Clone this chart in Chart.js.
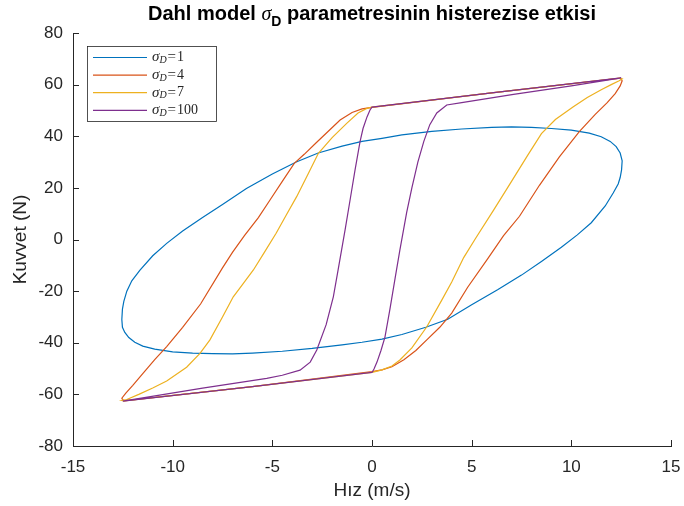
<!DOCTYPE html>
<html>
<head>
<meta charset="utf-8">
<script src="https://cdn.jsdelivr.net/npm/chart.js@4"></script>
<style>
  body { margin: 0; background: #fff; }
  canvas { display: block; }
</style>
</head>
<body>
<canvas id="chart" width="684" height="506"></canvas>
<script>
// sigma_D = 1 : upper branch (left tip -> right tip), then lower branch back
const sig1V = [-12.55, -12.52, -12.45, -12.3, -12.05, -11.65, -11.0, -10.3, -9.5, -8.5, -7.5, -6.3, -5.0, -3.8, -2.7, -1.5, -0.5,
  0.5, 1.5, 3.0, 4.5, 6.0, 7.0, 8.0, 9.0, 10.0, 10.9, 11.5, 11.95, 12.25, 12.45, 12.55,
  12.52, 12.45, 12.35, 12.1, 11.7, 11.0, 10.3, 9.5, 8.5, 7.5, 6.3, 5.0, 3.8, 2.7, 1.5, 0.5,
  -0.5, -1.5, -3.0, -4.5, -6.0, -7.0, -8.0, -9.0, -10.0, -10.9, -11.5, -11.9, -12.2, -12.4, -12.52, -12.55];
const sig1F = [-31, -27, -24, -20, -16, -12, -6.3, -1.5, 3.3, 8.5, 13.6, 19.8, 25.4, 30, 33.5, 36.2, 38.0,
  39.2, 40.5, 41.9, 42.8, 43.4, 43.6, 43.4, 43.0, 42.4, 41.2, 39.8, 38.0, 36.0, 33.5, 30.5,
  27, 24, 21.5, 18, 13, 6.5, 1.8, -3, -8.5, -13.8, -19.5, -25.3, -30.9, -34, -36.8, -38.6,
  -39.8, -40.8, -42.2, -43.3, -44.0, -44.3, -44.2, -44.0, -43.5, -42.5, -41.3, -39.8, -38.0, -36.0, -34, -31];

// sigma_D = 4
const sig4V = [0, 0.5, 1.0, 1.6, 2.2, 2.8, 3.4, 4.0, 4.8, 5.8, 6.6, 7.4, 8.4, 9.4, 10.4, 11.2, 11.8, 12.2, 12.45, 12.55, 12.45,
  6.0, 0,
  -0.5, -1.0, -1.6, -2.1, -2.8, -3.4, -3.9, -4.5, -5.1, -5.7, -6.4, -7.0, -7.5, -8.6, -9.5, -10.3, -10.9, -11.5, -12.0, -12.35, -12.55, -12.45,
  -6.0, 0];
const sig4F = [-51.2, -50.5, -49.3, -46.6, -43, -38.5, -34, -28.5, -18.5, -7.5, 1.5, 9, 21, 32, 41.8, 48.5, 53, 56.5, 59.5, 61.5, 62.5,
  56.8, 51.2,
  50.6, 49.2, 46.3, 42.6, 37.5, 33, 29.5, 22.5, 15.5, 8.5, 1.5, -5, -11, -25, -34, -41.5, -46.5, -52, -56.5, -59.5, -61.5, -62.5,
  -57, -51.2];

// sigma_D = 7
const sig7V = [0, 0.5, 1.0, 1.4, 2.0, 2.75, 3.5, 4.0, 4.6, 5.2, 6.1, 7.0, 7.8, 8.5, 9.2, 10.1, 10.8, 11.5, 12.0, 12.4, 12.55, 12.45,
  6.0, 0,
  -0.26, -0.7, -1.27, -2.0, -2.69, -3.2, -3.78, -4.3, -4.81, -5.4, -5.95, -6.5, -6.96, -7.5, -8.13, -8.63, -9.3, -10.3, -11.0, -11.7, -12.3, -12.55, -12.45,
  -6.0, 0];
const sig7F = [-51.5, -50.5, -49, -46.7, -42, -33.8, -23.5, -16.5, -7, 0.5, 11.4, 22.5, 32.5, 41, 46.5, 51.4, 55, 58, 60, 61.5, 62.2, 62.5,
  56.8, 51.3,
  50.8, 49, 45, 39.5, 33.4, 25.5, 16.6, 9.5, 2.4, -5, -11.8, -17.5, -22.2, -30, -38.9, -44.1, -49.5, -54.8, -57.5, -60, -62, -62.3, -62.5,
  -57, -51.5];

// sigma_D = 100
const sig100V = [0, 0.1, 0.25, 0.45, 0.65, 0.9, 1.16, 1.4, 1.74, 2.0, 2.3, 2.6, 2.9, 3.25, 3.75, 4.5, 7.1, 10.0, 12.5,
  6.0, 0,
  -0.1, -0.25, -0.45, -0.6, -0.85, -1.1, -1.35, -1.7, -1.94, -2.3, -2.77, -3.1, -3.61, -4.5, -5.28, -8.5, -12.5,
  -6.0, 0];
const sig100F = [-51.5, -50.2, -47.5, -43, -37.8, -27, -15, -4, 10.5, 20, 30, 38, 44.5, 49, 52.1, 53, 56.2, 59.5, 62.6,
  56.8, 51.3,
  50.2, 47.5, 43, 37.9, 27, 15.3, 3.7, -11.8, -22.2, -33, -42.8, -47.5, -50.6, -52.6, -53.8, -57.6, -62.6,
  -57, -51.5];

const legendValues = ["1", "4", "7", "100"];
const seriesColors = ["#0072BD", "#D95319", "#EDB120", "#7E2F8E"];
const xTitle = "Hız (m/s)";
const yTitle = "Kuvvet (N)";

const axisColor = "#262626";
const sansFont = '"Liberation Sans", Arial, sans-serif';
const serifFont = '"Liberation Serif", serif';

function toPoints(vs, fs) {
  return vs.map((v, i) => ({ x: v, y: fs[i] }));
}

const seriesData = [
  toPoints(sig1V, sig1F),
  toPoints(sig4V, sig4F),
  toPoints(sig7V, sig7F),
  toPoints(sig100V, sig100F)
];

// MATLAB style ticks pointing into the plot
const inwardTicks = {
  id: "inwardTicks",
  afterDraw(chart) {
    const c = chart.ctx;
    const area = chart.chartArea;
    const xs = chart.scales.x, ys = chart.scales.y;
    c.save();
    c.strokeStyle = axisColor;
    c.lineWidth = 1;
    c.beginPath();
    xs.ticks.forEach(t => {
      const px = Math.round(xs.getPixelForValue(t.value)) + 0.5;
      c.moveTo(px, area.bottom);
      c.lineTo(px, area.bottom - 6);
    });
    ys.ticks.forEach(t => {
      const py = Math.round(ys.getPixelForValue(t.value)) + 0.5;
      c.moveTo(area.left, py);
      c.lineTo(area.left + 6, py);
    });
    c.stroke();
    c.restore();
  }
};

function drawParts(c, parts, x, y) {
  parts.forEach(p => {
    x += p.gap || 0;
    c.font = p.font;
    c.fillText(p.text, x, y + (p.dy || 0));
    x += c.measureText(p.text).width + (p.after || 0);
  });
}

function partsWidth(c, parts) {
  let w = 0;
  parts.forEach(p => { c.font = p.font; w += c.measureText(p.text).width + (p.gap || 0) + (p.after || 0); });
  return w;
}

const titlePlugin = {
  id: "mathTitle",
  afterDraw(chart) {
    const c = chart.ctx;
    const area = chart.chartArea;
    const parts = [
      { text: "Dahl model ", font: "bold 20px " + sansFont },
      { text: "σ", font: "italic 20px " + serifFont },
      { text: "D", font: "bold 14px " + sansFont, dy: 6 },
      { text: " parametresinin histerezise etkisi", font: "bold 20px " + sansFont }
    ];
    c.save();
    c.fillStyle = "#000";
    c.textBaseline = "alphabetic";
    const w = partsWidth(c, parts);
    drawParts(c, parts, (area.left + area.right) / 2 - w / 2, 20);
    c.restore();
  }
};

const legendPlugin = {
  id: "mathLegend",
  afterDraw(chart) {
    const c = chart.ctx;
    c.save();
    c.fillStyle = "#fff";
    c.fillRect(87, 46, 129, 75);
    c.strokeStyle = axisColor;
    c.lineWidth = 0.8;
    c.strokeRect(87.5, 46.5, 129, 75);
    c.textBaseline = "middle";
    legendValues.forEach((val, i) => {
      const y = 57.5 + i * 17.6;
      c.strokeStyle = seriesColors[i];
      c.lineWidth = 1.2;
      c.beginPath();
      c.moveTo(93, y);
      c.lineTo(147, y);
      c.stroke();
      c.fillStyle = axisColor;
      drawParts(c, [
        { text: "σ", font: "italic 15px " + serifFont },
        { text: "D", font: "italic 10px " + serifFont, dy: 3 },
        { text: "=", font: "15px " + serifFont, gap: 1, after: 1 },
        { text: val, font: "14px " + serifFont }
      ], 152, y);
    });
    c.restore();
  }
};

const ctx = document.getElementById("chart");

const chart = new Chart(ctx, {
  type: "scatter",
  data: {
    datasets: seriesData.map((pts, i) => ({
      label: "σD=" + legendValues[i],
      data: pts,
      showLine: true,
      borderColor: seriesColors[i],
      backgroundColor: seriesColors[i],
      borderWidth: 1.2,
      pointRadius: 0,
      tension: 0,
      order: 4 - i
    }))
  },
  options: {
    responsive: false,
    animation: false,
    events: [],
    layout: { padding: { top: 33, right: 13, left: 0, bottom: 0 } },
    plugins: {
      legend: { display: false },
      title: { display: false },
      tooltip: { enabled: false }
    },
    scales: {
      x: {
        type: "linear",
        min: -15,
        max: 15,
        ticks: { stepSize: 5, padding: 11, color: axisColor, font: { family: sansFont, size: 17 } },
        grid: { drawOnChartArea: false, drawTicks: false },
        border: { color: axisColor, width: 1 },
        title: { display: true, text: xTitle, color: axisColor, font: { family: sansFont, size: 19 }, padding: { top: 0, bottom: 4 } },
        afterFit(scale) {
          scale.height = 60;
          scale.paddingLeft = 0;
          scale.paddingRight = 0;
        }
      },
      y: {
        type: "linear",
        min: -80,
        max: 80,
        ticks: { stepSize: 20, padding: 10, color: axisColor, font: { family: sansFont, size: 17 } },
        grid: { drawOnChartArea: false, drawTicks: false },
        border: { color: axisColor, width: 1 },
        title: { display: true, text: yTitle, color: axisColor, font: { family: sansFont, size: 19 }, padding: { top: 9, bottom: 0 } },
        afterFit(scale) {
          scale.width = 73;
          scale.paddingTop = 0;
          scale.paddingBottom = 0;
        }
      }
    }
  },
  plugins: [inwardTicks, titlePlugin, legendPlugin]
});
</script>
</body>
</html>
